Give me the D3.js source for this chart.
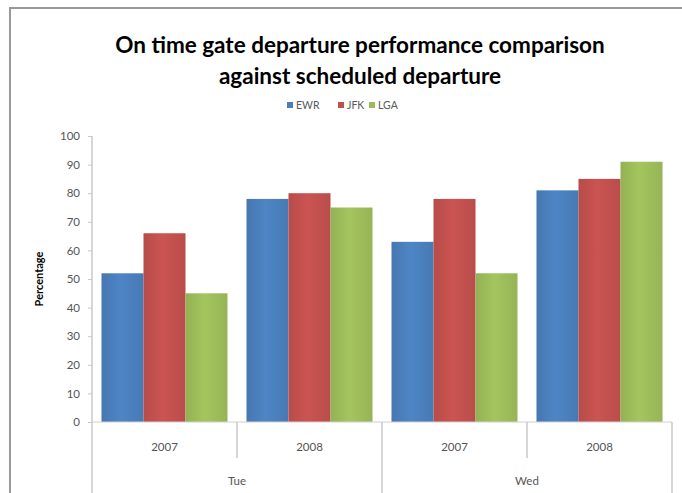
<!DOCTYPE html>
<html><head><meta charset="utf-8">
<script src="https://cdn.jsdelivr.net/npm/d3@7"></script>
<style>
html,body{margin:0;padding:0;background:#fff;}
svg{display:block;}
text{font-family:Lato,"Open Sans",sans-serif;}
</style></head>
<body>
<svg id="chart" width="682" height="493"></svg>
<script>
const titleLines = ["On time gate departure performance comparison", "against scheduled departure"];
const days = ["Tue", "Wed"];
const years = ["2007", "2008"];
const seriesNames = ["EWR", "JFK", "LGA"];
const seriesColors = ["#4a7ebb", "#c0504d", "#9bbb59"];
const ewr = [52, 78, 63, 81];
const jfk = [66, 80, 78, 85];
const lga = [45, 75, 52, 91];
const yTicks = [0, 10, 20, 30, 40, 50, 60, 70, 80, 90, 100];
const yLabel = "Percentage";

const seriesValues = [ewr, jfk, lga];
const categories = [];
days.forEach(d => years.forEach(y => categories.push({day: d, year: y, key: d + "-" + y})));

const svg = d3.select("#chart");
const W = 682, H = 493;
const plot = {left: 92, right: 672, top: 136, bottom: 422};

// frame
svg.append("rect").attr("x", 10).attr("y", 8).attr("width", W).attr("height", H)
  .attr("fill", "#fff").attr("stroke", "#9a9a9a").attr("stroke-width", 2);

// gradients
const defs = svg.append("defs");
seriesColors.forEach((c, i) => {
  const g = defs.append("linearGradient").attr("id", "g" + i)
    .attr("x1", "0%").attr("x2", "100%").attr("y1", "0%").attr("y2", "0%");
  const base = d3.color(c);
  g.append("stop").attr("offset", "0%").attr("stop-color", base.darker(0.15));
  g.append("stop").attr("offset", "45%").attr("stop-color", base.brighter(0.15));
  g.append("stop").attr("offset", "100%").attr("stop-color", base.darker(0.1));
});

// title
svg.append("g").selectAll("text").data(titleLines).join("text")
  .attr("x", 360).attr("y", (d, i) => 53 + i * 31)
  .attr("text-anchor", "middle").attr("font-weight", "bold")
  .attr("font-size", 22.5).attr("fill", "#000").text(d => d);

// legend
const legendX = [287, 338, 369];
const lg = svg.append("g");
seriesNames.forEach((n, i) => {
  lg.append("rect").attr("x", legendX[i]).attr("y", 102).attr("width", 6).attr("height", 6)
    .attr("fill", seriesColors[i]);
  lg.append("text").attr("x", legendX[i] + 9).attr("y", 109)
    .attr("font-size", 10.5).attr("fill", "#595959").text(n);
});

// scales
const x0 = d3.scaleBand().domain(categories.map(c => c.key)).range([plot.left, plot.right]).padding(0);
const x1 = d3.scaleBand().domain(seriesNames).range([0, x0.bandwidth()]).paddingInner(0).paddingOuter(0.226);
const y = d3.scaleLinear().domain([0, 100]).range([plot.bottom, plot.top]);

// bars
const bars = svg.append("g");
seriesNames.forEach((n, si) => {
  bars.selectAll(".b" + si).data(categories).join("rect")
    .attr("x", (c) => x0(c.key) + x1(n))
    .attr("width", x1.bandwidth())
    .attr("y", (c, ci) => y(seriesValues[si][ci]))
    .attr("height", (c, ci) => y(0) - y(seriesValues[si][ci]))
    .attr("fill", "url(#g" + si + ")");
});

// y axis
const yAxis = d3.axisLeft(y).tickValues(yTicks).tickSize(4).tickPadding(8);
const ya = svg.append("g").attr("transform", `translate(${plot.left},0)`).call(yAxis);
ya.select(".domain").remove();
ya.selectAll(".tick line").attr("stroke", "#c8c8c8");
ya.selectAll(".tick text").attr("font-size", 11.5).attr("fill", "#555").attr("font-family", "Lato");
svg.append("line").attr("x1", plot.left).attr("x2", plot.left).attr("y1", plot.top).attr("y2", H)
  .attr("stroke", "#c8c8c8").attr("stroke-width", 1.5);

svg.append("text").attr("transform", `translate(43,${(plot.top + plot.bottom) / 2}) rotate(-90)`)
  .attr("text-anchor", "middle").attr("font-weight", "bold").attr("font-size", 11)
  .attr("fill", "#000").text(yLabel);

// x axis
svg.append("line").attr("x1", plot.left).attr("x2", plot.right).attr("y1", plot.bottom).attr("y2", plot.bottom)
  .attr("stroke", "#d0d0d0");
const xa = svg.append("g");
xa.selectAll(".yl").data(categories).join("text")
  .attr("x", c => x0(c.key) + x0.bandwidth() / 2).attr("y", 451)
  .attr("text-anchor", "middle").attr("font-size", 11.5).attr("fill", "#555").text(c => c.year);
// dividers
categories.forEach((c, i) => {
  if (i === 0) return;
  const isDay = c.year === years[0];
  xa.append("line").attr("x1", x0(c.key)).attr("x2", x0(c.key))
    .attr("y1", plot.bottom).attr("y2", isDay ? H : 458)
    .attr("stroke", "#c8c8c8").attr("stroke-width", 1.5);
});
xa.append("line").attr("x1", plot.right).attr("x2", plot.right).attr("y1", plot.bottom).attr("y2", H)
  .attr("stroke", "#c8c8c8").attr("stroke-width", 1.5);
days.forEach(d => {
  const a = x0(d + "-" + years[0]), b = x0(d + "-" + years[years.length - 1]) + x0.bandwidth();
  xa.append("text").attr("x", (a + b) / 2).attr("y", 485).attr("text-anchor", "middle")
    .attr("font-size", 11.5).attr("fill", "#555").text(d);
});
</script>
</body></html>
